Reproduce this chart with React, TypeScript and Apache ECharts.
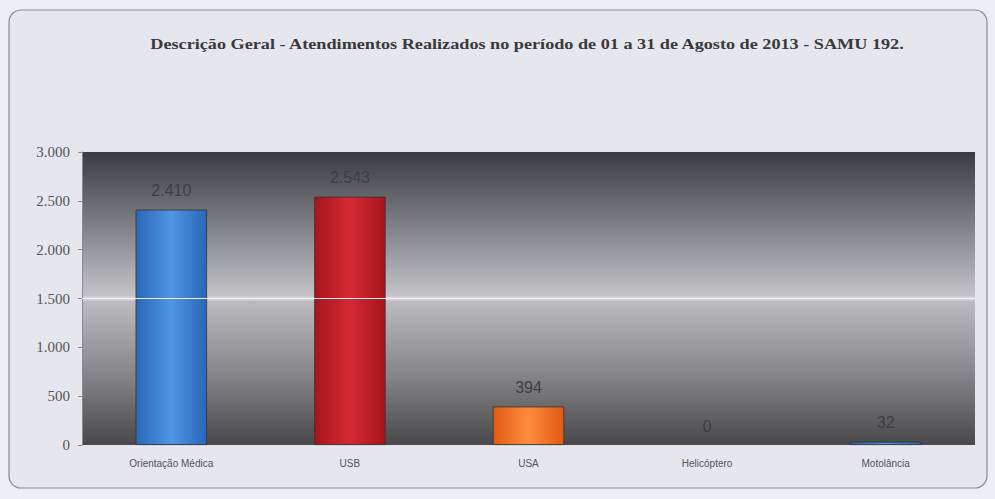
import React, { useEffect, useRef } from "react";
import * as echarts from "echarts";

const categories = ["Orientação Médica", "USB", "USA", "Helicóptero", "Motolância"];
const values = [2410, 2543, 394, 0, 32];
const barColors = [
  ["#2a66b8", "#4f96e4"],
  ["#a8141c", "#d42a32"],
  ["#e25a14", "#ff8c3c"],
  ["#2a66b8", "#4f96e4"],
  ["#2a66b8", "#4f96e4"],
];
const titleText = "Descrição Geral - Atendimentos Realizados no período de 01 a 31 de Agosto de 2013 - SAMU 192.";

const fmt = (v: number) => String(v).replace(/\B(?=(\d{3})+(?!\d))/g, ".");

export default function App() {
  const ref = useRef<HTMLDivElement>(null);
  useEffect(() => {
    if (!ref.current) return;
    const chart = echarts.init(ref.current, null, { renderer: "svg" });
    const bg = new echarts.graphic.LinearGradient(0, 0, 0, 1, [
      { offset: 0, color: "#3a3c42" },
      { offset: 0.25, color: "#7e8086" },
      { offset: 0.49, color: "#c4c4c8" },
      { offset: 0.5, color: "#e0e0e4" },
      { offset: 0.51, color: "#bcbcc0" },
      { offset: 0.75, color: "#88888c" },
      { offset: 1, color: "#48484a" },
    ]);
    chart.setOption({
      animation: false,
      backgroundColor: "#eeeef8",
      graphic: [
        {
          type: "rect",
          z: -10,
          shape: { x: 9, y: 10, width: 978, height: 478, r: 12 },
          style: { fill: "#e6e6ee", stroke: "#8a8a92", lineWidth: 1.2 },
        },
        {
          type: "text",
          x: 527,
          y: 45,
          scaleX: 1.3,
          scaleY: 1,
          style: {
            text: titleText,
            align: "center",
            verticalAlign: "middle",
            fontFamily: "Liberation Serif",
            fontWeight: "bold",
            fontSize: 14,
            fill: "#3a3a3a",
          },
        },
      ],
      grid: {
        left: 82,
        right: 20,
        top: 152,
        bottom: 54,
        show: true,
        backgroundColor: bg,
        borderWidth: 0,
      },
      xAxis: {
        type: "category",
        data: categories,
        axisLine: { show: false },
        axisTick: { show: false },
        axisLabel: {
          fontFamily: "Liberation Sans",
          fontSize: 10,
          color: "#555",
          margin: 13,
        },
      },
      yAxis: {
        type: "value",
        min: 0,
        max: 3000,
        interval: 500,
        axisLine: { show: true, lineStyle: { color: "#8a8a8a" } },
        axisTick: { show: true, length: 4, lineStyle: { color: "#8a8a8a" } },
        splitLine: { show: false },
        axisLabel: {
          fontFamily: "Liberation Serif",
          fontSize: 15,
          color: "#555",
          margin: 12,
          formatter: (v: number) => fmt(v),
        },
      },
      series: [
        {
          type: "bar",
          barWidth: "40%",
          data: values.map((v, i) => ({
            value: v,
            itemStyle: {
              color: new echarts.graphic.LinearGradient(0, 0, 1, 0, [
                { offset: 0, color: barColors[i][0] },
                { offset: 0.5, color: barColors[i][1] },
                { offset: 1, color: barColors[i][0] },
              ]),
              borderColor: "#333",
              borderWidth: v === 0 ? 0 : 0.8,
            },
          })),
          label: {
            show: true,
            position: "top",
            distance: 11,
            fontFamily: "Liberation Sans",
            fontSize: 16,
            color: "#3e3e3e",
            formatter: (p: any) => fmt(p.value),
          },
          markLine: {
            silent: true,
            symbol: "none",
            label: { show: false },
            lineStyle: { color: "#f0f0f4", width: 1, type: "solid" },
            data: [{ yAxis: 1500 }],
          },
        },
      ],
    });
    return () => chart.dispose();
  }, []);
  return (
    <div
      ref={ref}
      style={{ position: "fixed", left: 0, top: 0, width: 995, height: 499 }}
    />
  );
}
